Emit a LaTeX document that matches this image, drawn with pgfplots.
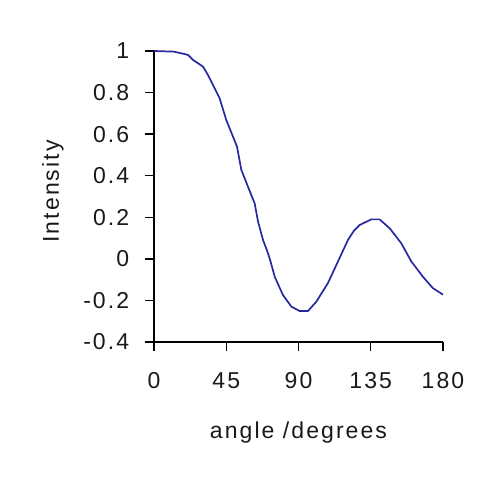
\documentclass[border=0pt]{standalone}
\usepackage{pgfplots}
\pgfplotsset{compat=1.18}
\usepackage{fontspec}
\setmainfont{Liberation Sans}[LetterSpace=9]
\definecolor{curve}{RGB}{40,40,160}
\definecolor{txt}{RGB}{25,25,25}
\begin{document}
\fontsize{23bp}{27bp}\selectfont
\begin{tikzpicture}
\useasboundingbox (-154bp,-139bp) rectangle (346bp,342bp);
\begin{axis}[
  at={(0,0)}, anchor=south west,
  scale only axis, width=289bp, height=291bp,
  xmin=0, xmax=180, ymin=-0.4, ymax=1,
  axis lines*=left,
  axis line style={line width=1.4bp, black},
  tick style={line width=1.4bp, black},
  tick align=outside, major tick length=9bp,
  xtick={0,45,90,135,180},
  ytick={-0.4,-0.2,0,0.2,0.4,0.6,0.8,1},
  /pgf/number format/assume math mode=true,
  ticklabel style={font=\fontsize{23bp}{27bp}\selectfont, text=txt},
  xticklabel style={anchor=base, yshift=-37bp},
  yticklabel style={anchor=east, xshift=-8bp},
  yticklabel={\pgfmathprintnumber[fixed,precision=1]{\tick}},
  xlabel={angle /degrees},
  ylabel={Intensity},
  label style={font=\fontsize{23bp}{27bp}\selectfont, text=txt},
  xlabel style={at={(axis description cs:0.5,0)}, anchor=base, yshift=-96bp},
  ylabel style={at={(axis description cs:0,0.5)}, anchor=base, yshift=95bp, xshift=5bp},
  clip=false,
]
\addplot[curve, line width=1.7bp, line join=round] coordinates {
(0,1.0) (12.3,0.997) (18.1,0.987) (21.2,0.981) (24.3,0.957) (30.5,0.925)
(33.6,0.885) (40.9,0.772) (45.0,0.668) (49.2,0.588) (51.7,0.540)
(54.4,0.428) (60.6,0.307) (62.7,0.267) (64.8,0.179) (67.9,0.091)
(71.0,0.027) (72.5,-0.010) (75.2,-0.086) (80.3,-0.174) (85.6,-0.230)
(90.7,-0.251) (95.9,-0.251) (101.1,-0.206) (108.3,-0.117) (113.6,-0.029)
(120.8,0.091) (124.5,0.135) (128.1,0.163) (135.4,0.190) (140.5,0.190)
(146.8,0.147) (154.0,0.075) (160.3,-0.013) (167.5,-0.086) (173.7,-0.141)
(180,-0.172)
};
\end{axis}
\end{tikzpicture}
\end{document}
